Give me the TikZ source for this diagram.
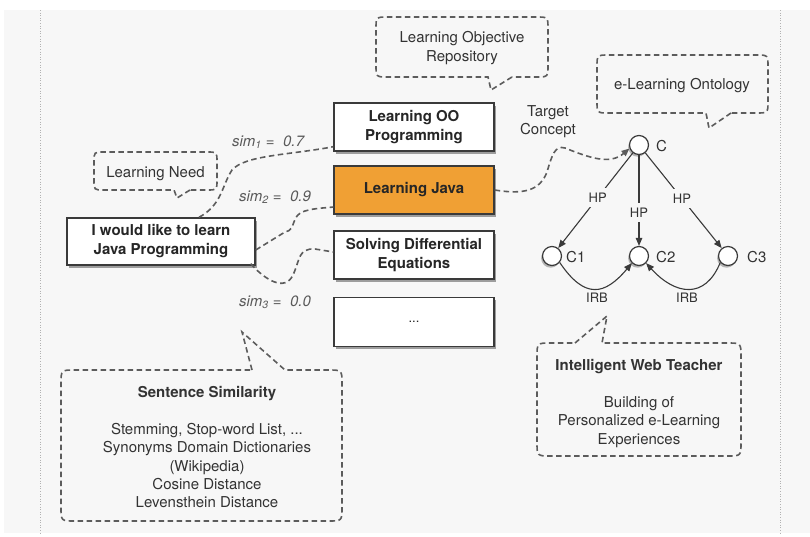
\documentclass[tikz,border=0pt]{standalone}
\usepackage{fontspec}
\setmainfont{TeX Gyre Heros}
\usetikzlibrary{shadows,arrows.meta,calc}
\definecolor{bg}{HTML}{F7F7F7}
\definecolor{orangefill}{HTML}{F0A034}
\definecolor{boxline}{HTML}{3A3A3A}
\definecolor{dashgrey}{HTML}{5C5C5C}
\definecolor{txt}{HTML}{333333}
\tikzset{
  stdfont/.style={font=\fontsize{15}{18.3}\selectfont},
  boldfont/.style={font=\fontsize{15}{19}\selectfont\bfseries},
  box/.style={draw=boxline, line width=1.4pt, fill=white, minimum width=160pt,
    minimum height=48pt, align=center, boldfont, text=black!85, inner sep=2pt,
    drop shadow={shadow xshift=1.8pt, shadow yshift=-2.6pt, opacity=0.75}},
  bubble/.style={draw=dashgrey, line width=1.6pt, dash pattern=on 5.5pt off 3.5pt},
  conn/.style={draw=dashgrey, line width=1.6pt, dash pattern=on 5.5pt off 3.5pt},
  concept/.style={circle, draw=boxline, line width=1.2pt, fill=white, minimum size=19pt, inner sep=0pt,
    drop shadow={shadow xshift=-1.4pt, shadow yshift=-2.2pt, opacity=0.55}},
  clabel/.style={stdfont, text=txt, anchor=west, inner sep=0pt},
  rel/.style={draw=boxline, line width=1.1pt},
  tip/.style={-{Triangle[length=8pt,width=6.5pt]}},
  rellabel/.style={font=\fontsize{13}{15}\selectfont, text=txt, fill=bg, inner sep=5pt},
  btext/.style={stdfont, text=txt, align=center, inner sep=0pt},
  simlabel/.style={stdfont, text=black!65, inner sep=0pt}
}
\begin{document}
\begin{tikzpicture}[x=1pt,y=-1pt]
\useasboundingbox (0,0) rectangle (810,536);
\fill[white] (0,0) rectangle (810,536);
\fill[bg] (4,10) rectangle (810,533);
\draw[black!30, dotted, line width=0.6pt] (40,10) -- (40,533);
\draw[black!30, dotted, line width=0.6pt] (780,10) -- (780,533);

% Boxes
\node[box] (oo) at (414,127) {Learning OO\\Programming};
\node[box, fill=orangefill] (java) at (414,190) {Learning Java};
\node[box] (solving) at (414,255) {Solving Differential\\Equations};
\node[box, minimum height=49pt, font=\fontsize{13}{15}\selectfont] (dots) at (414,322) {...};
\node[box, minimum width=188pt, minimum height=47pt] (ilike) at (161,241.5) {I would like to learn\\Java Programming};

% Bubbles
% Learning Objective Repository
\draw[bubble] (512,77) -- (491,90) -- (488,77) -- (388,77) .. controls (376,77) .. (376,65)
  -- (376,29) .. controls (376,17) .. (388,17) -- (536,17) .. controls (548,17) .. (548,29)
  -- (548,65) .. controls (548,77) .. (536,77) -- (512,77);
\node[btext] (lor) at (462,48) {Learning Objective\\Repository};
% Ontology
\draw[bubble] (731,113) -- (709,128) -- (706,113) -- (609,113) .. controls (597,113) .. (597,101)
  -- (597,67) .. controls (597,55) .. (609,55) -- (756,55) .. controls (768,55) .. (768,67)
  -- (768,101) .. controls (768,113) .. (756,113) -- (731,113);
\node[btext] (onto) at (682,86) {e-Learning Ontology};
% Learning Need
\draw[bubble] (190,190) -- (177,198) -- (174,190) -- (104,190) .. controls (94,190) .. (94,180)
  -- (94,162) .. controls (94,152) .. (104,152) -- (207,152) .. controls (217,152) .. (217,162)
  -- (217,180) .. controls (217,190) .. (207,190) -- (190,190);
\node[btext] (need) at (155.5,174) {Learning Need};
% Sentence Similarity
\draw[bubble] (252,370) -- (242,332) -- (285,370) -- (328,370) .. controls (342,370) .. (342,384)
  -- (342,507) .. controls (342,521) .. (328,521) -- (75,521) .. controls (61,521) .. (61,507)
  -- (61,384) .. controls (61,370) .. (75,370) -- (252,370);
\node[btext, boldfont] (sstitle) at (207,394) {Sentence Similarity};
\node[btext] (ssbody) at (207,465.5) {Stemming, Stop-word List, ...\\Synonyms Domain Dictionaries\\(Wikipedia)\\Cosine Distance\\Levensthein Distance};
% Intelligent Web Teacher
\draw[bubble] (575,343) -- (607,316) -- (602,343) -- (727,343) .. controls (741,343) .. (741,357)
  -- (741,442) .. controls (741,456) .. (727,456) -- (551,456) .. controls (537,456) .. (537,442)
  -- (537,357) .. controls (537,343) .. (551,343) -- (575,343);
\node[btext, boldfont] (iwttitle) at (639,367) {Intelligent Web Teacher};
\node[btext] (iwtbody) at (639,422) {Building of\\Personalized e-Learning\\Experiences};

% Similarity connectors
\draw[conn] ([xshift=38pt]ilike.north) .. controls (222,205) and (222,185) .. (232,170)
  .. controls (245,155) and (290,155) .. ([yshift=5pt]oo.south west);
\draw[conn] ([yshift=-8.5pt]ilike.east) -- (285,232) .. controls (297,230) and (290,215) .. (305,211)
  .. controls (315,208) and (325,208) .. ([yshift=-17pt]java.west);
\draw[conn] ([xshift=-5pt,yshift=2pt]ilike.south east) .. controls (265,280) and (285,292) .. (293,275)
  .. controls (300,260) and (298,248) .. (315,249) -- ([yshift=3pt]solving.west);
\node[simlabel] (sim1) at (268,142) {\itshape sim\textsubscript{1} =\ \ 0.7};
\node[simlabel] (sim2) at (275,197) {\itshape sim\textsubscript{2} =\ \ 0.9};
\node[simlabel] (sim3) at (275,302) {\itshape sim\textsubscript{3} =\ \ 0.0};

% Concepts
\node[concept] (C) at (639,145) {};
\node[concept] (C1) at (552,256) {};
\node[concept] (C2) at (639,256) {};
\node[concept] (C3) at (728,256) {};
\node[clabel] (lC) at (656,146) {C};
\node[clabel] (lC1) at (566,257) {C1};
\node[clabel] (lC2) at (656,257) {C2};
\node[clabel] (lC3) at (747,257) {C3};

\draw[rel, tip] (C) -- node[rellabel, pos=0.47] {HP} (C1);
\draw[rel, tip] (C) -- node[rellabel, pos=0.63] {HP} (C2);
\draw[rel, tip] (C) -- node[rellabel, pos=0.48] {HP} (C3);
\draw[rel, tip] (C1.-40) .. controls (585,300) and (605,295) .. (C2.225);
\draw[rel, tip] (C3.-140) .. controls (705,300) and (675,295) .. (C2.-45);
\node[rellabel, fill=none, inner sep=0pt] (irb1) at (597,298) {IRB};
\node[rellabel, fill=none, inner sep=0pt] (irb2) at (687,298) {IRB};

% Target concept
\node[btext] (target) at (548,122) {Target\\Concept};
\draw[conn, tip] (java.east) .. controls (525,195) and (540,190) .. (547,172)
  .. controls (552,155) and (555,145) .. (565,148) .. controls (590,158) and (610,165) .. (C.200);
\end{tikzpicture}
\end{document}
